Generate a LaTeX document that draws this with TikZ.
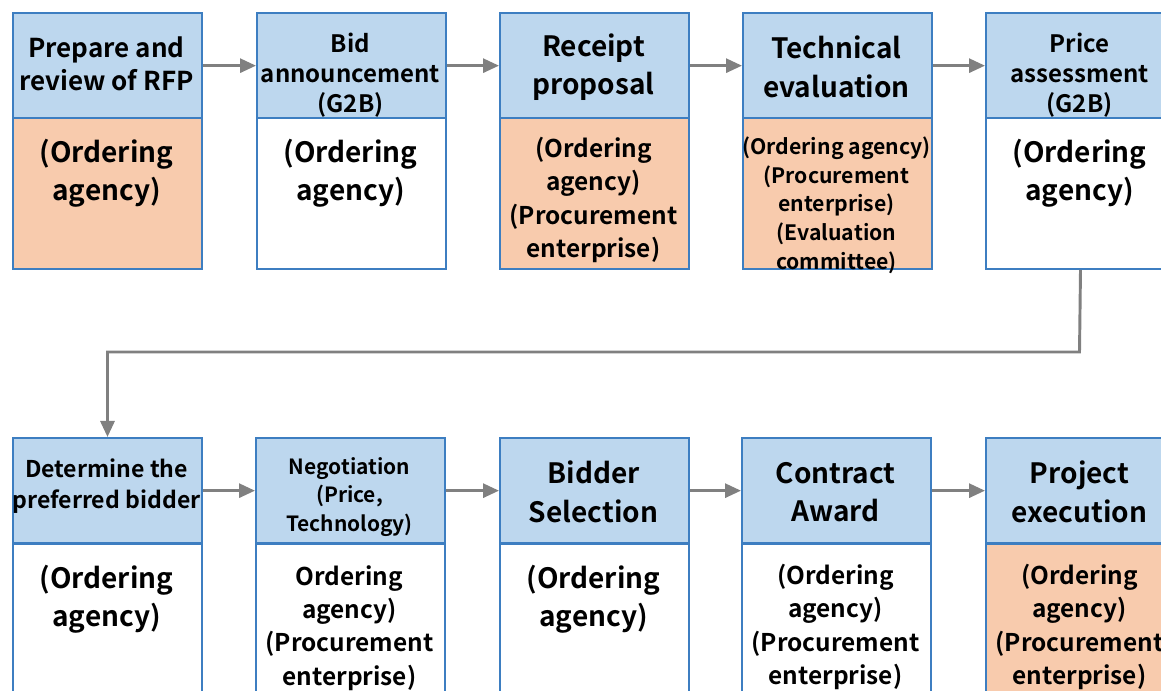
\documentclass[tikz,border=0pt]{standalone}
\usepackage{fontspec}
\setmainfont{Noto Sans CJK KR}[BoldFont={Noto Sans CJK KR Bold}]
\usetikzlibrary{arrows.meta}
\definecolor{hdr}{HTML}{BDD7EE}
\definecolor{bdr}{HTML}{3D7EC1}
\definecolor{org}{HTML}{F8CBAD}
\definecolor{arr}{HTML}{808080}
\begin{document}
\begin{tikzpicture}[x=0.75pt,y=-0.75pt,
  box/.style={draw=bdr,line width=1.5pt,minimum width=141.75pt,inner sep=0pt,anchor=north west},
  hbox/.style={box,fill=hdr,minimum height=79pt},
  wbody/.style={box,fill=white},
  obody/.style={box,fill=org},
  txt/.style={align=center,inner sep=0pt,font=\bfseries},
  bigT/.style={txt,font=\bfseries\fontsize{21}{29}\selectfont},
  midT/.style={txt,font=\bfseries\fontsize{19.5}{25}\selectfont},
  smlT/.style={txt,font=\bfseries\fontsize{18}{22.5}\selectfont},
  bigB/.style={txt,font=\bfseries\fontsize{21}{28.5}\selectfont},
  midB/.style={txt,font=\bfseries\fontsize{18.3}{25}\selectfont},
  smlB/.style={txt,font=\bfseries\fontsize{15.9}{21.5}\selectfont},
  conn/.style={draw=arr,line width=2.2pt,-{Triangle[length=12pt,width=10.5pt]}}]
\useasboundingbox (0,0) rectangle (1161,691);
\clip (0,0) rectangle (1161,691);
\fill[white] (0,0) rectangle (1161,691);
% top row bodies
\node[obody,minimum height=113.25pt] (b1) at (12,117) {};
\node[wbody,minimum height=113.25pt] (b2) at (256,117) {};
\node[obody,minimum height=113.25pt] (b3) at (499,117) {};
\node[obody,minimum height=113.25pt] (b4) at (742,117) {};
\node[wbody,minimum height=113.25pt] (b5) at (985,117) {};
% top row headers
\node[hbox] (h1) at (12,12) {};
\node[hbox] (h2) at (256,12) {};
\node[hbox] (h3) at (499,12) {};
\node[hbox] (h4) at (742,12) {};
\node[hbox] (h5) at (985,12) {};
% bottom row bodies
\node[wbody,minimum height=135pt] (c1) at (12,543) {};
\node[wbody,minimum height=135pt] (c2) at (255,543) {};
\node[wbody,minimum height=135pt] (c3) at (499,543) {};
\node[wbody,minimum height=135pt] (c4) at (741,543) {};
\node[obody,minimum height=135pt] (c5) at (985,543) {};
% bottom row headers
\node[hbox] (d1) at (12,437) {};
\node[hbox] (d2) at (255,437) {};
\node[hbox] (d3) at (499,437) {};
\node[hbox] (d4) at (741,437) {};
\node[hbox] (d5) at (985,437) {};
% texts top
\node[midT] (th1) at (106.5,64) {Prepare and\\review of RFP};
\node[smlT] (th2) at (350.5,75) {Bid\\announcement\\(G2B)};
\node[bigT] (th3) at (593.5,67) {Receipt\\proposal};
\node[bigT] (th4) at (836.5,67) {Technical\\evaluation};
\node[smlT] (th5) at (1079.5,75) {Price\\assessment\\(G2B)};
\node[bigB] (tb1) at (106.5,173) {(Ordering\\agency)};
\node[bigB] (tb2) at (350.5,173) {(Ordering\\agency)};
\node[midB] (tb3) at (593.5,200) {(Ordering\\agency)\\(Procurement\\enterprise)};
\node[smlB] (tb4) at (836.5,205) {(Ordering agency)\\(Procurement\\enterprise)\\(Evaluation\\committee)};
\node[bigB] (tb5) at (1079.5,173) {(Ordering\\agency)};
% texts bottom
\node[txt,font=\bfseries\fontsize{17.3}{23}\selectfont] (td1) at (106.5,486) {Determine the\\preferred bidder};
\node[txt,font=\bfseries\fontsize{15.7}{21.5}\selectfont] (td2) at (349.5,497) {Negotiation\\(Price,\\Technology)};
\node[bigT] (td3) at (593.5,492) {Bidder\\Selection};
\node[bigT] (td4) at (835.5,492) {Contract\\Award};
\node[bigT] (td5) at (1079.5,492) {Project\\execution};
\node[bigB] (tc1) at (106.5,599) {(Ordering\\agency)};
\node[midB] (tc2) at (349.5,628) {Ordering\\agency)\\(Procurement\\enterprise)};
\node[bigB] (tc3) at (593.5,599) {(Ordering\\agency)};
\node[midB] (tc4) at (835.5,627) {(Ordering\\agency)\\(Procurement\\enterprise)};
\node[midB] (tc5) at (1079.5,627) {(Ordering\\agency)\\(Procurement\\enterprise)};
% connectors
\draw[conn] (h1.east) -- (h2.west);
\draw[conn] (h2.east) -- (h3.west);
\draw[conn] (h3.east) -- (h4.west);
\draw[conn] (h4.east) -- (h5.west);
\draw[conn] (d1.east) -- (d2.west);
\draw[conn] (d2.east) -- (d3.west);
\draw[conn] (d3.east) -- (d4.west);
\draw[conn] (d4.east) -- (d5.west);
\coordinate (bend) at (1079.5,352);
\draw[conn] (b5.south) -- (bend) -| (d1.north);
\end{tikzpicture}
\end{document}
